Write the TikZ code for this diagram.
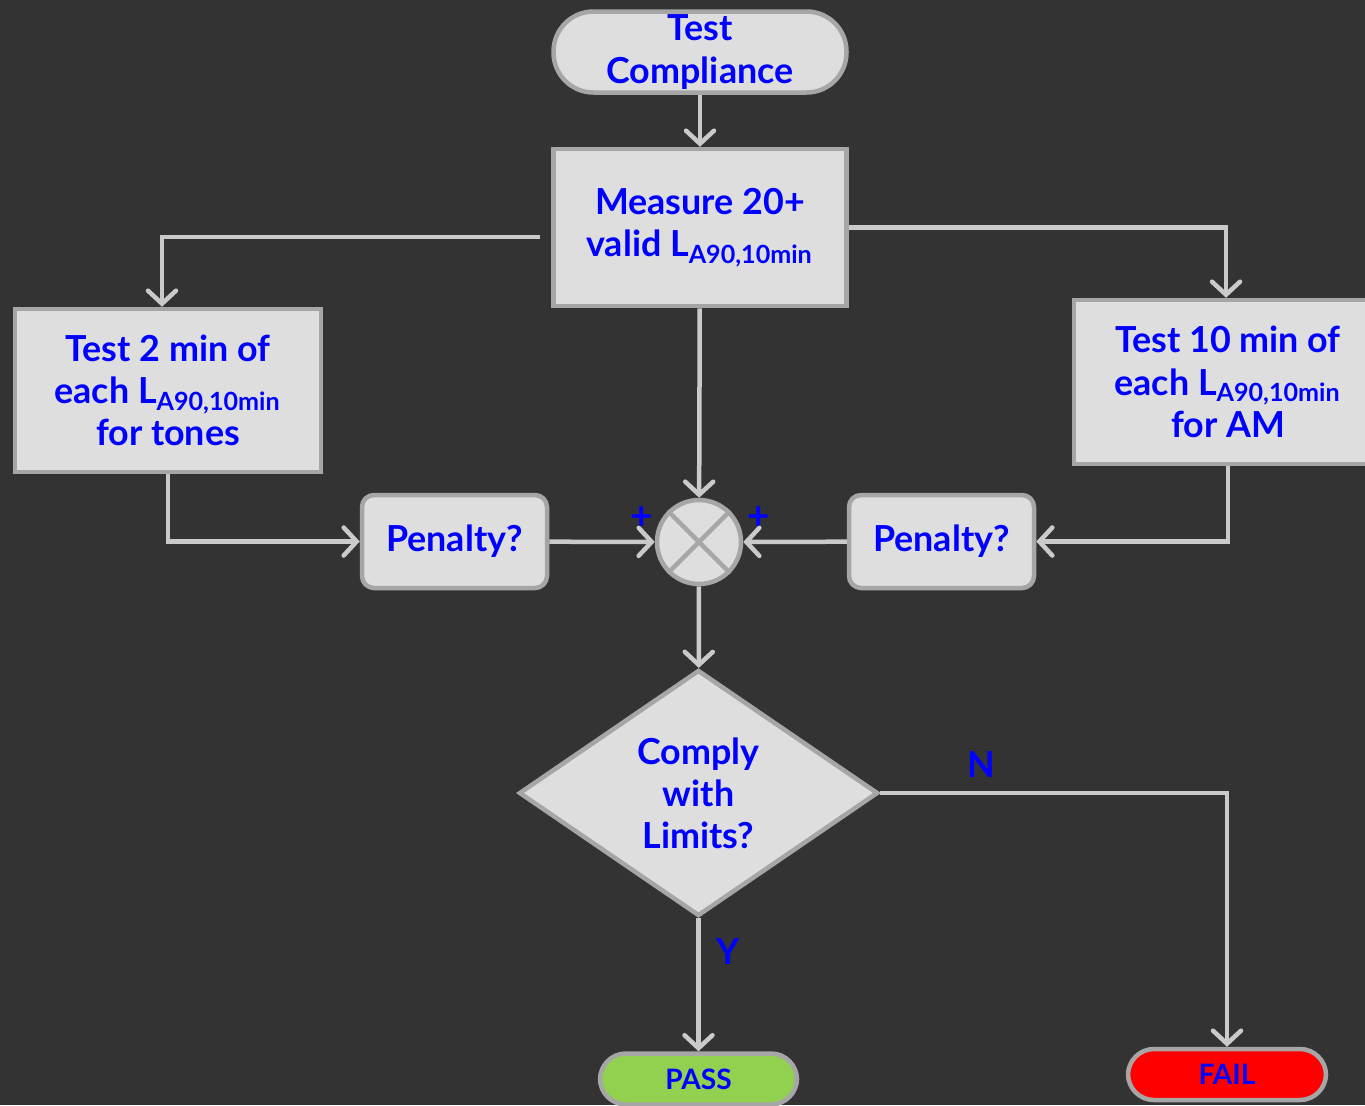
\documentclass[tikz,border=0pt]{standalone}
\usepackage{fontspec}
\setmainfont{Lato}
\usetikzlibrary{arrows.meta,shapes.geometric}

\definecolor{bgdark}{HTML}{333333}
\definecolor{boxfill}{HTML}{DEDEDE}
\definecolor{boxline}{HTML}{A6A6A6}
\definecolor{wire}{HTML}{CACACA}
\definecolor{passgreen}{HTML}{92D050}

\newcommand{\Lsub}{L\textsubscript{A90,10min}}

\tikzset{
    every node/.style={font=\fontsize{10.2}{12}\selectfont\bfseries,
        text=blue, align=center},
    blockbox/.style={draw=boxline, fill=boxfill, line width=0.045cm,
        inner sep=0pt},
    termbox/.style={blockbox, rounded corners=0.4cm},
    penaltybox/.style={blockbox, rounded corners=0.12cm,
        minimum width=1.85cm, minimum height=0.93cm},
    flow/.style={draw=wire, line width=0.045cm,
        -{Straight Barb[length=0.13cm,width=0.28cm,line cap=round]}},
    smalllabel/.style={font=\fontsize{8}{9}\selectfont\bfseries},
    signlabel/.style={font=\fontsize{11}{12}\selectfont\bfseries},
    }

\begin{document}
\begin{tikzpicture}
\fill[bgdark] (0,0) rectangle (13.65,-11.05);
\useasboundingbox (0,0) rectangle (13.65,-11.05);

% blocks
\node[termbox, minimum width=2.93cm, minimum height=0.81cm]
    (start) at (7.00,-0.52) {Test\\Compliance};
\node[blockbox, minimum width=2.93cm, minimum height=1.57cm]
    (measure) at (7.00,-2.275) {Measure 20+\\valid \Lsub};
\node[blockbox, minimum width=3.06cm, minimum height=1.63cm]
    (tones) at (1.68,-3.905) {Test 2 min of\\each \Lsub\\for tones};
\node[blockbox, minimum width=3.08cm, minimum height=1.64cm]
    (am) at (12.28,-3.82) {Test 10 min of\\each \Lsub\\for AM};
\node[penaltybox] (penL) at (4.545,-5.415) {Penalty?};
\node[penaltybox] (penR) at (9.415,-5.415) {Penalty?};
\node[blockbox, circle, minimum size=0.84cm] (sum) at (6.99,-5.42) {};
\draw[boxline, line width=0.045cm] (sum.north west) -- (sum.south east)
    (sum.north east) -- (sum.south west);
\node[blockbox, diamond, aspect=1.45, minimum width=3.59cm,
    minimum height=2.46cm] (check) at (6.985,-7.93) {Comply\\with\\Limits?};
\node[termbox, fill=passgreen, rounded corners=0.26cm, minimum width=1.97cm,
    minimum height=0.51cm, smalllabel] (pass) at (6.985,-10.79) {PASS};
\node[termbox, fill=red, rounded corners=0.26cm, minimum width=1.98cm,
    minimum height=0.51cm, smalllabel] (fail) at (12.27,-10.745) {FAIL};

% signs and branch labels
\node[signlabel] (plusL) at (6.42,-5.18) {+};
\node[signlabel] (plusR) at (7.59,-5.18) {+};
\node (labN) at (9.81,-7.65) {N};
\node (labY) at (7.28,-9.52) {Y};

% connectors
\coordinate (mL) at (5.40,-2.37);
\draw[flow] (start) -- (measure);
\draw[flow] (mL) -| ([xshift=-0.06cm]tones.north);
\draw[flow] (measure.east) -| ([xshift=-0.02cm]am.north);
\draw[flow] (measure) -- (sum);
\draw[flow] (tones.south) |- (penL.west);
\draw[flow] (am.south) |- (penR.east);
\draw[flow] (penL) -- (sum);
\draw[flow] (penR) -- (sum);
\draw[flow] (sum) -- (check);
\draw[flow] (check.east) -| (fail.north);
\draw[flow] (check.south) -- (pass.north);
\end{tikzpicture}
\end{document}
